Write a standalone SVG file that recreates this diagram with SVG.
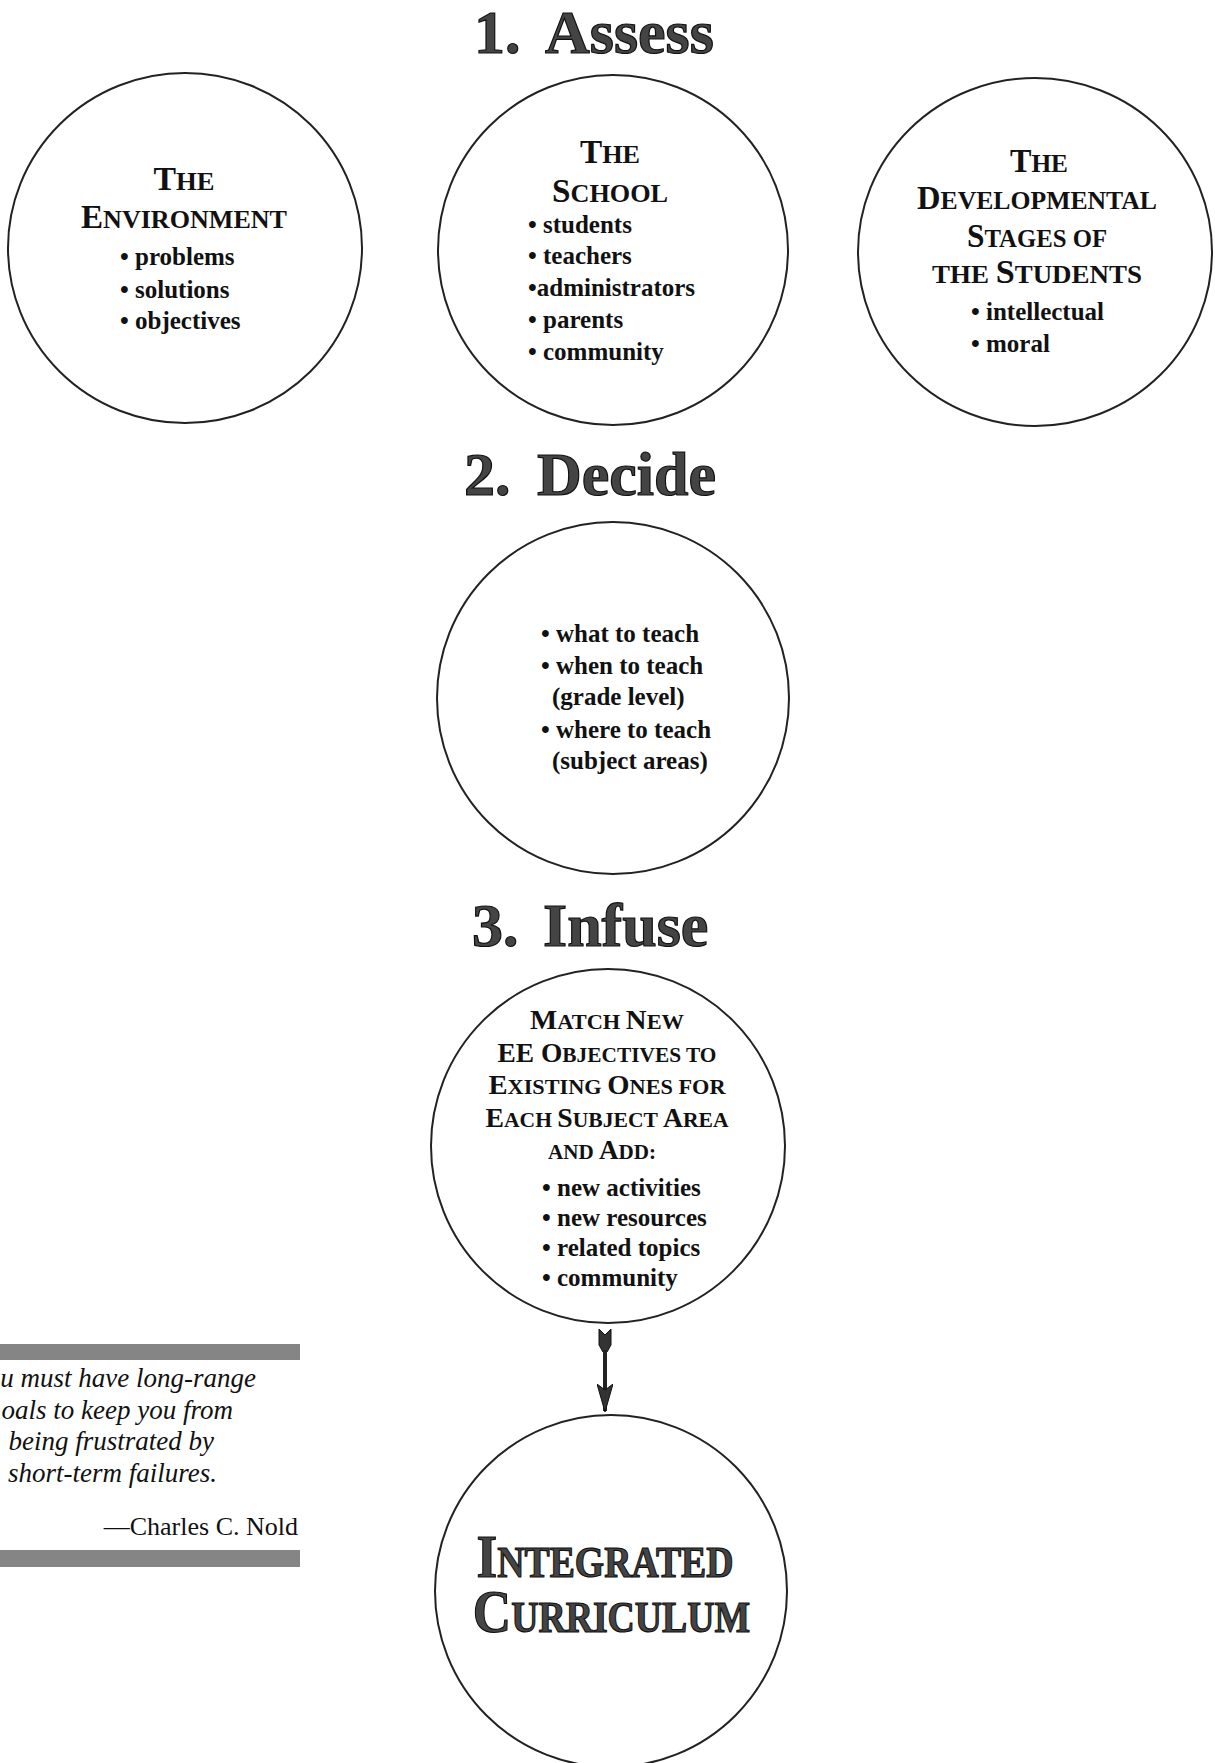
<svg xmlns="http://www.w3.org/2000/svg" width="1215" height="1763" viewBox="0 0 1215 1763">
<style>
text{font-family:"Liberation Serif","Times New Roman",serif;fill:#111}
.title{font-size:62px;font-weight:bold;fill:#444;stroke:#111;stroke-width:1.2px}
.node{fill:#fff;stroke:#222;stroke-width:2}
.hdr{font-weight:bold;text-anchor:middle}
.h1{font-size:33px}
.h1 .sc{font-size:26px}
.h3{font-size:27px}
.h3 .sc{font-size:21px}
.item{font-size:25px;font-weight:bold}
.big{font-size:62px;font-weight:bold;fill:#444;stroke:#111;stroke-width:1.2px;text-anchor:middle}
.big .sc{font-size:44px}
.quote{font-size:27px;font-style:italic;text-anchor:end}
.bar{fill:#858585}
</style>
<defs>
<marker id="head" viewBox="0 0 28 16" refX="27" refY="8" markerWidth="28" markerHeight="16" markerUnits="userSpaceOnUse" orient="auto">
<path d="M0,0 L6,8 L0,16 L28,8 Z" fill="#333" stroke="#111" stroke-width="1"/>
</marker>
</defs>
<rect width="1215" height="1763" fill="#fff"/>

<g id="title-assess"><text class="title" y="53"><tspan x="474">1. </tspan><tspan x="545">Assess</tspan></text></g>
<g id="title-decide"><text class="title" y="495"><tspan x="464">2. </tspan><tspan x="537">Decide</tspan></text></g>
<g id="title-infuse"><text class="title" y="946"><tspan x="472">3. </tspan><tspan x="543">Infuse</tspan></text></g>

<g id="node-environment">
<ellipse class="node" cx="185" cy="248" rx="177" ry="175"/>
<text class="hdr h1" x="184" y="190" textLength="61" lengthAdjust="spacingAndGlyphs">T<tspan class="sc">HE</tspan></text>
<text class="hdr h1" x="184" y="228" textLength="206" lengthAdjust="spacingAndGlyphs">E<tspan class="sc">NVIRONMENT</tspan></text>
<text class="item" x="120" y="265">• problems</text>
<text class="item" x="120" y="298">• solutions</text>
<text class="item" x="120" y="329">• objectives</text>
</g>

<g id="node-school">
<ellipse class="node" cx="613" cy="250" rx="175" ry="175"/>
<text class="hdr h1" x="610" y="163" textLength="60" lengthAdjust="spacingAndGlyphs">T<tspan class="sc">HE</tspan></text>
<text class="hdr h1" x="610" y="202" textLength="116" lengthAdjust="spacingAndGlyphs">S<tspan class="sc">CHOOL</tspan></text>
<text class="item" x="528" y="233">• students</text>
<text class="item" x="528" y="264">• teachers</text>
<text class="item" x="528" y="296">•administrators</text>
<text class="item" x="528" y="328">• parents</text>
<text class="item" x="528" y="360">• community</text>
</g>

<g id="node-developmental">
<ellipse class="node" cx="1035" cy="252" rx="177" ry="174"/>
<text class="hdr h1" x="1039" y="172" textLength="58" lengthAdjust="spacingAndGlyphs">T<tspan class="sc">HE</tspan></text>
<text class="hdr h1" x="1037" y="209" textLength="240" lengthAdjust="spacingAndGlyphs">D<tspan class="sc">EVELOPMENTAL</tspan></text>
<text class="hdr h1" x="1037" y="247" textLength="140" lengthAdjust="spacingAndGlyphs">S<tspan class="sc">TAGES OF</tspan></text>
<text class="hdr h1" x="1037" y="283" textLength="210" lengthAdjust="spacingAndGlyphs"><tspan class="sc">THE </tspan>S<tspan class="sc">TUDENTS</tspan></text>
<text class="item" x="971" y="320">• intellectual</text>
<text class="item" x="971" y="352">• moral</text>
</g>

<g id="node-decide">
<circle class="node" cx="613" cy="698" r="176"/>
<text class="item" x="541" y="642">• what to teach</text>
<text class="item" x="541" y="674">• when to teach</text>
<text class="item" x="552" y="705">(grade level)</text>
<text class="item" x="541" y="738">• where to teach</text>
<text class="item" x="552" y="769">(subject areas)</text>
</g>

<g id="node-infuse">
<circle class="node" cx="608" cy="1146" r="177"/>
<text class="hdr h3" x="607" y="1029" textLength="154" lengthAdjust="spacingAndGlyphs">M<tspan class="sc">ATCH </tspan>N<tspan class="sc">EW</tspan></text>
<text class="hdr h3" x="607" y="1062" textLength="219" lengthAdjust="spacingAndGlyphs">EE O<tspan class="sc">BJECTIVES TO</tspan></text>
<text class="hdr h3" x="607" y="1094" textLength="237" lengthAdjust="spacingAndGlyphs">E<tspan class="sc">XISTING </tspan>O<tspan class="sc">NES FOR</tspan></text>
<text class="hdr h3" x="607" y="1127" textLength="243" lengthAdjust="spacingAndGlyphs">E<tspan class="sc">ACH </tspan>S<tspan class="sc">UBJECT </tspan>A<tspan class="sc">REA</tspan></text>
<text class="hdr h3" x="602" y="1159" textLength="108" lengthAdjust="spacingAndGlyphs"><tspan class="sc">AND </tspan>A<tspan class="sc">DD:</tspan></text>
<text class="item" x="542" y="1196">• new activities</text>
<text class="item" x="542" y="1226">• new resources</text>
<text class="item" x="542" y="1256">• related topics</text>
<text class="item" x="542" y="1286">• community</text>
</g>

<g id="connectors">
<polygon points="599,1329 605,1335 611,1329 611,1345 607,1352 603,1352 599,1345" fill="#333" stroke="#111" stroke-width="1"/>
<line x1="605" y1="1350" x2="605" y2="1411" stroke="#222" stroke-width="4" marker-end="url(#head)"/>
</g>

<g id="node-integrated">
<circle class="node" cx="611" cy="1591" r="176"/>
<text class="big" transform="translate(608,0) scale(0.858,1)"><tspan x="-3.5" y="1577">I<tspan class="sc">NTEGRATED</tspan></tspan><tspan x="4" y="1632">C<tspan class="sc">URRICULUM</tspan></tspan></text>
</g>

<g id="quote">
<rect class="bar" x="0" y="1344" width="300" height="16"/>
<text class="quote" x="256" y="1387">u must have long-range</text>
<text class="quote" x="233" y="1419">oals to keep you from</text>
<text class="quote" x="214" y="1450">being frustrated by</text>
<text class="quote" x="217" y="1482">short-term failures.</text>
<text x="298" y="1535" style="font-size:26px;text-anchor:end">—Charles C. Nold</text>
<rect class="bar" x="0" y="1550" width="300" height="17"/>
</g>
</svg>
